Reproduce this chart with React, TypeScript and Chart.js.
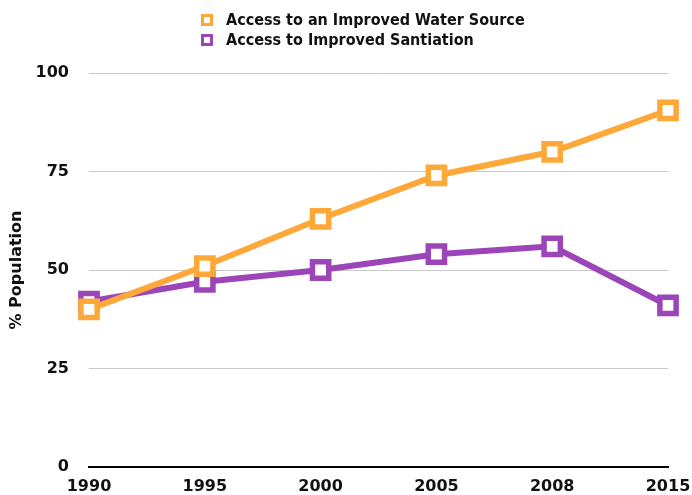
import React, { useEffect, useRef } from "react";
import { Chart, registerables } from "chart.js";

Chart.register(...registerables);

const years = ["1990", "1995", "2000", "2005", "2008", "2015"];
const waterAccess = [40, 51, 63, 74, 80, 90.5];
const sanitationAccess = [42, 47, 50, 54, 56, 41];
const seriesLabels = ["Access to an Improved Water Source", "Access to Improved Santiation"];
const seriesColors = ["#FFA83A", "#9B45B8"];
const yTicks = [0, 25, 50, 75, 100];

const legendPlugin = {
  id: "stackedLegend",
  afterDraw(chart: any) {
    const ctx = chart.ctx;
    ctx.save();
    ctx.font = "bold 16px 'DejaVu Sans Condensed', 'DejaVu Sans', sans-serif";
    ctx.textBaseline = "middle";
    ctx.textAlign = "left";
    const x0 = 207;
    chart.data.datasets.forEach((ds: any, i: number) => {
      const cy = 20 + i * 20;
      ctx.lineWidth = 3;
      ctx.strokeStyle = ds.borderColor;
      ctx.fillStyle = "#ffffff";
      ctx.beginPath();
      ctx.rect(x0 - 4.5, cy - 4.5, 9, 9);
      ctx.fill();
      ctx.stroke();
      ctx.fillStyle = "#111111";
      ctx.fillText(ds.label, 226, cy + 1);
    });
    ctx.restore();
  },
};

export default function App() {
  const ref = useRef<HTMLCanvasElement | null>(null);
  useEffect(() => {
    document.body.style.margin = "0";
    const canvas = ref.current;
    if (!canvas) return;
    const tickFont = { family: "'DejaVu Sans', sans-serif", size: 16, weight: "bold" as const };
    const chart = new Chart(canvas, {
      type: "line",
      data: {
        labels: years,
        datasets: [
          {
            label: seriesLabels[0],
            data: waterAccess,
            borderColor: seriesColors[0],
            backgroundColor: "#ffffff",
            borderWidth: 6,
            pointStyle: "rect",
            pointRadius: 11.5,
            pointBorderWidth: 5.5,
            pointBackgroundColor: "#ffffff",
            pointBorderColor: seriesColors[0],
            tension: 0,
          },
          {
            label: seriesLabels[1],
            data: sanitationAccess,
            borderColor: seriesColors[1],
            backgroundColor: "#ffffff",
            borderWidth: 6,
            pointStyle: "rect",
            pointRadius: 11.5,
            pointBorderWidth: 5.5,
            pointBackgroundColor: "#ffffff",
            pointBorderColor: seriesColors[1],
            tension: 0,
          },
        ],
      },
      options: {
        responsive: false,
        animation: false,
        layout: { padding: { top: 73, right: 24, bottom: 0, left: 0 } },
        plugins: {
          legend: { display: false },
          tooltip: { enabled: false },
        },
        scales: {
          x: {
            offset: false,
            grid: { display: false, drawTicks: false },
            border: { display: true, color: "#000000", width: 2 },
            ticks: { color: "#111111", font: tickFont, padding: 10, maxRotation: 0, autoSkip: false },
            afterFit: (axis: any) => {
              axis.height = 28;
              axis.paddingLeft = 0;
              axis.paddingRight = 0;
            },
          },
          y: {
            min: 0,
            max: 100,
            afterBuildTicks: (axis: any) => {
              axis.ticks = yTicks.map((v) => ({ value: v }));
            },
            afterFit: (axis: any) => {
              axis.width = 89;
              axis.paddingTop = 0;
              axis.paddingBottom = 0;
            },
            grid: {
              drawTicks: false,
              color: (c: any) => (c.tick && c.tick.value === 0 ? "#000000" : "#c8c8c8"),
              lineWidth: (c: any) => (c.tick && c.tick.value === 0 ? 2 : 1),
            },
            border: { display: false },
            ticks: { color: "#111111", font: tickFont, padding: 20 },
            title: {
              display: true,
              text: "% Population",
              color: "#111111",
              font: tickFont,
              padding: { top: 7, bottom: 0 },
            },
          },
        },
      },
      plugins: [legendPlugin],
    });
    return () => chart.destroy();
  }, []);
  return <canvas ref={ref} width={692} height={495} style={{ display: "block" }} />;
}
